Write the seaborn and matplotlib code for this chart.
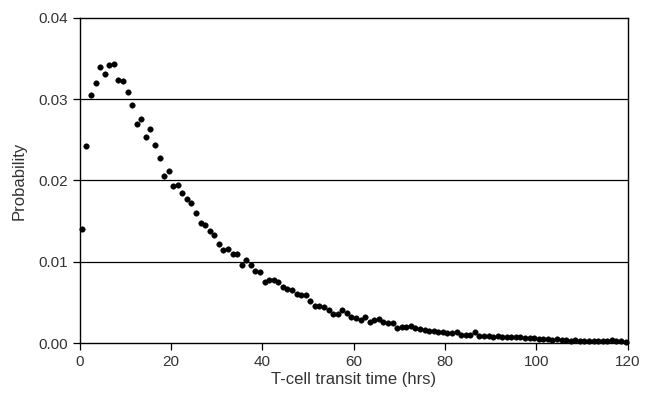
import numpy as np
import pandas as pd
import matplotlib
matplotlib.use("Agg")
import matplotlib.pyplot as plt
import seaborn as sns

# hourly bins, centred on the half hour
hours = np.arange(0.5, 120, 1.0)
probability = [
    0.0140, 0.0242, 0.0305, 0.0320, 0.0339, 0.0331, 0.0342, 0.0343, 0.0324, 0.0322,
    0.0309, 0.0293, 0.0270, 0.0275, 0.0253, 0.0263, 0.0244, 0.0228, 0.0206, 0.0212,
    0.0193, 0.0195, 0.0185, 0.0177, 0.0172, 0.0160, 0.0148, 0.0145, 0.0138, 0.0133,
    0.0122, 0.0115, 0.0116, 0.0109, 0.0110, 0.0096, 0.0102, 0.0096, 0.0088, 0.0087,
    0.0075, 0.0078, 0.0078, 0.0075, 0.0069, 0.0066, 0.0065, 0.0060, 0.0059, 0.0059,
    0.0052, 0.0045, 0.0046, 0.0044, 0.0041, 0.0036, 0.0036, 0.0041, 0.0037, 0.0032,
    0.0031, 0.0028, 0.0032, 0.0026, 0.0028, 0.0029, 0.0026, 0.0025, 0.0024, 0.0019,
    0.0020, 0.0020, 0.0021, 0.0018, 0.0017, 0.0016, 0.0015, 0.0015, 0.0014, 0.0013,
    0.0012, 0.0012, 0.0013, 0.0010, 0.0010, 0.0010, 0.0014, 0.0009, 0.0009, 0.0009,
    0.0008, 0.0009, 0.0008, 0.0008, 0.0007, 0.0008, 0.0007, 0.0006, 0.0006, 0.0006,
    0.0005, 0.0005, 0.0005, 0.0004, 0.0005, 0.0004, 0.0004, 0.0003, 0.0004, 0.0003,
    0.0003, 0.0003, 0.0003, 0.0002, 0.0003, 0.0002, 0.0004, 0.0002, 0.0002, 0.0001,
]
x_ticks = [0, 20, 40, 60, 80, 100, 120]
y_ticks = [0.00, 0.01, 0.02, 0.03, 0.04]
grid_levels = [0.01, 0.02, 0.03]

df = pd.DataFrame({"hours": hours, "probability": probability})

sns.set_theme(style="ticks")
plt.rcParams["font.family"] = ["Liberation Sans", "DejaVu Sans"]

fig = plt.figure(figsize=(6.52, 3.97), dpi=100)
ax = fig.add_axes([0.122, 0.136, 0.841, 0.819])

for level in grid_levels:
    ax.axhline(level, color="black", lw=0.9, zorder=1)

sns.scatterplot(data=df, x="hours", y="probability", ax=ax, color="black",
                s=16, edgecolor="black", linewidth=0.3, zorder=3, clip_on=False)

ax.set_xlim(0, 120)
ax.set_ylim(0, 0.04)
ax.set_xticks(x_ticks)
ax.set_yticks(y_ticks)
ax.set_xticklabels([str(t) for t in x_ticks])
ax.set_yticklabels([f"{t:.2f}" for t in y_ticks])
ax.tick_params(direction="out", length=5, width=0.9, colors="black",
               labelsize=11, labelcolor="#333333")
for side in ["top", "right", "bottom", "left"]:
    ax.spines[side].set_visible(True)
    ax.spines[side].set_color("black")
    ax.spines[side].set_linewidth(1.0)

ax.set_xlabel("T-cell transit time (hrs)", fontsize=12, color="#333333", labelpad=2)
ax.set_ylabel("Probability", fontsize=12, color="#333333", labelpad=8)

fig.savefig("out.png", dpi=100)
